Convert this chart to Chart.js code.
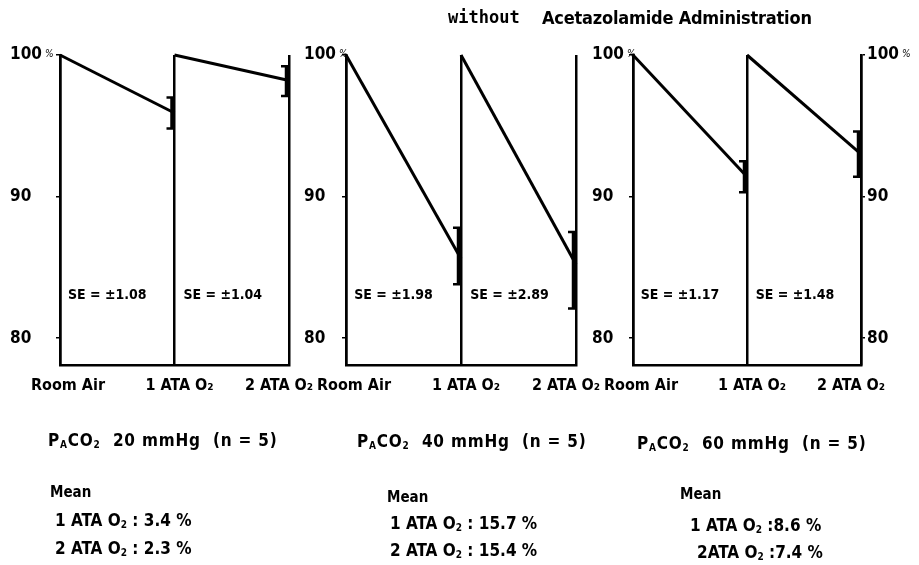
<!DOCTYPE html>
<html><head><meta charset="utf-8">
<script src="https://cdn.jsdelivr.net/npm/chart.js@4.4.1/dist/chart.umd.min.js"></script>
<style>
html,body{margin:0;padding:0;background:#fff;}
#wrap{position:relative;width:919px;height:565px;overflow:hidden;font-family:'Liberation Sans Narrow','DejaVu Sans Condensed',sans-serif;font-weight:bold;color:#000;}
canvas{position:absolute;left:0;top:0;}
.t{position:absolute;white-space:nowrap;line-height:1;font-size:17px;}
.t sub{font-size:10px;vertical-align:-2px;}
.h{letter-spacing:0.8px;}
</style></head><body>
<div id="wrap">
<canvas id="c0" width="919" height="565"></canvas>
<canvas id="c1" width="919" height="565"></canvas>
<canvas id="c2" width="919" height="565"></canvas>
<div class="t" style="left:448px;top:9px;font-family:'DejaVu Sans Mono',monospace;font-size:17px;">without</div>
<div class="t" style="left:542px;top:9px;font-size:18px;letter-spacing:-0.2px;">Acetazolamide Administration</div>
<div id="notes"></div>
</div>
<script>
const conditions = ["Room Air", "1 ATA O\u2082", "2 ATA O\u2082"];
const paco2 = [20, 40, 60];
const nSubjects = [5, 5, 5];
const startValue = [100, 100, 100];
const end1ATA = [95.9, 85.6, 91.4];
const end2ATA = [98.2, 85.2, 93.0];
const err1Low = [94.8, 83.8, 90.3];
const err1High = [97.0, 87.8, 92.5];
const err2Low = [97.1, 82.1, 91.4];
const err2High = [99.2, 87.5, 94.6];
const se1 = ["\u00b11.08", "\u00b11.98", "\u00b11.17"];
const se2 = ["\u00b11.04", "\u00b12.89", "\u00b11.48"];
const mean1Label = ["1 ATA O<sub>2</sub> : ", "1 ATA O<sub>2</sub> : ", "1 ATA O<sub>2</sub> :"];
const mean2Label = ["2 ATA O<sub>2</sub> : ", "2 ATA O<sub>2</sub> : ", "2ATA O<sub>2</sub> :"];
const mean1 = ["3.4", "15.7", "8.6"];
const mean2 = ["2.3", "15.4", "7.4"];
const yTicks = [80, 90, 100];

const FONT = "'Liberation Sans Narrow','DejaVu Sans Condensed',sans-serif";
const geom = [
  {padL: 10, axisW: 50, right: 289, rightAxis: false},
  {padL: 304, axisW: 42, right: 576, rightAxis: false},
  {padL: 592, axisW: 41, right: 861, rightAxis: true}
];
const RIGHT_AXIS_W = 58;
const xLabelOffsets = [8, 5, -10];

function yAxis(pos, w) {
  return {
    type: 'linear', position: pos, min: 78.1, max: 100,
    afterBuildTicks: s => { s.ticks = yTicks.map(v => ({value: v})); },
    afterFit: s => { s.width = w; },
    ticks: {
      color: '#000', padding: pos === 'left' ? 4 : 2,
      crossAlign: pos === 'left' ? 'far' : 'near',
      font: {family: FONT, size: 17, weight: 'bold'},
      callback: v => String(v)
    },
    grid: {drawOnChartArea: false, drawTicks: true, tickLength: 4, color: '#000', lineWidth: 1.5},
    border: {display: true, color: '#000', width: 2.5}
  };
}

const marksPlugin = {
  id: 'marks',
  afterDatasetsDraw(chart) {
    const i = chart.options.plugins.marks.panel;
    const xs = chart.scales.x, ys = chart.scales.y, ctx = chart.ctx;
    ctx.save();
    // error bars
    const bars = [[1, err1Low[i], err1High[i]], [2, err2Low[i], err2High[i]]];
    ctx.strokeStyle = '#000';
    bars.forEach(([xv, lo, hi]) => {
      const x = xs.getPixelForValue(xv) - 2;
      const y1 = ys.getPixelForValue(hi), y2 = ys.getPixelForValue(lo);
      ctx.lineWidth = 4.5;
      ctx.beginPath(); ctx.moveTo(x, y1); ctx.lineTo(x, y2); ctx.stroke();
      ctx.lineWidth = 2.5;
      ctx.beginPath();
      ctx.moveTo(x - 6, y1); ctx.lineTo(x + 2, y1);
      ctx.moveTo(x - 6, y2); ctx.lineTo(x + 2, y2);
      ctx.stroke();
    });
    ctx.fillStyle = '#000';
    // small percent signs after the 100 tick labels
    const y100 = ys.getPixelForValue(100);
    ctx.font = 'bold 17px ' + FONT;
    const w100 = ctx.measureText('100').width;
    ctx.font = 'italic 10px ' + FONT;
    ctx.textAlign = 'left'; ctx.textBaseline = 'middle';
    ctx.fillText('%', ys.left + w100 + 3, y100 - 1);
    if (chart.scales.y2) ctx.fillText('%', chart.scales.y2.left + 6 + w100 + 3, y100 - 1);
    // SE labels
    ctx.font = 'bold 14px ' + FONT;
    ctx.textAlign = 'center';
    const ySE = ys.getPixelForValue(83.05);
    ctx.fillText('SE = ' + se1[i], (xs.getPixelForValue(0) + xs.getPixelForValue(1)) / 2 - 10, ySE);
    ctx.fillText('SE = ' + se2[i], (xs.getPixelForValue(1) + xs.getPixelForValue(2)) / 2 - 9, ySE);
    // x category labels
    ctx.font = 'bold 16px ' + FONT;
    conditions.forEach((c, k) => {
      ctx.fillText(c, xs.getPixelForValue(k) + xLabelOffsets[k], chart.chartArea.bottom + 21);
    });
    ctx.restore();
  }
};

geom.forEach((g, i) => {
  const scales = {
    x: {
      type: 'linear', min: 0, max: 2,
      afterBuildTicks: s => { s.ticks = [0, 1, 2].map(v => ({value: v})); },
      afterFit: s => { s.height = 0; },
      ticks: {display: false},
      grid: {color: '#000', lineWidth: 2.5, drawTicks: false},
      border: {display: true, color: '#000', width: 2.5}
    },
    y: yAxis('left', g.axisW)
  };
  if (g.rightAxis) scales.y2 = yAxis('right', RIGHT_AXIS_W);
  const lineStyle = {borderColor: '#000', backgroundColor: '#000', borderWidth: 3, pointRadius: 0, tension: 0, clip: false, fill: false};
  new Chart(document.getElementById('c' + i), {
    type: 'line',
    data: {
      datasets: [
        Object.assign({data: [{x: 0, y: startValue[i]}, {x: 1, y: end1ATA[i]}]}, lineStyle),
        Object.assign({data: [{x: 1, y: startValue[i]}, {x: 2, y: end2ATA[i]}]}, lineStyle)
      ]
    },
    options: {
      responsive: false, animation: false,
      layout: {padding: {left: g.padL, right: 919 - g.right - (g.rightAxis ? RIGHT_AXIS_W : 0), top: 55, bottom: 200}},
      scales,
      plugins: {legend: {display: false}, tooltip: {enabled: false}, marks: {panel: i}}
    },
    plugins: [marksPlugin]
  });
});

// notes under each panel
const notePos = [
  {hx: 48, hy: 432, mx: 50, my: 485, lx: [55, 55], ly: [512, 540]},
  {hx: 357, hy: 433, mx: 387, my: 490, lx: [390, 390], ly: [515, 542]},
  {hx: 637, hy: 435, mx: 680, my: 487, lx: [690, 697], ly: [517, 544]}
];
const notes = document.getElementById('notes');
notePos.forEach((p, i) => {
  notes.insertAdjacentHTML('beforeend',
    `<div class="t h" style="left:${p.hx}px;top:${p.hy}px">P<sub>A</sub>CO<sub>2</sub>&nbsp; ${paco2[i]} mmHg&nbsp; (n = ${nSubjects[i]})</div>` +
    `<div class="t" style="left:${p.mx}px;top:${p.my}px;font-size:15px">Mean</div>` +
    `<div class="t" style="left:${p.lx[0]}px;top:${p.ly[0]}px">${mean1Label[i]}${mean1[i]} %</div>` +
    `<div class="t" style="left:${p.lx[1]}px;top:${p.ly[1]}px">${mean2Label[i]}${mean2[i]} %</div>`);
});
</script>
</body></html>
